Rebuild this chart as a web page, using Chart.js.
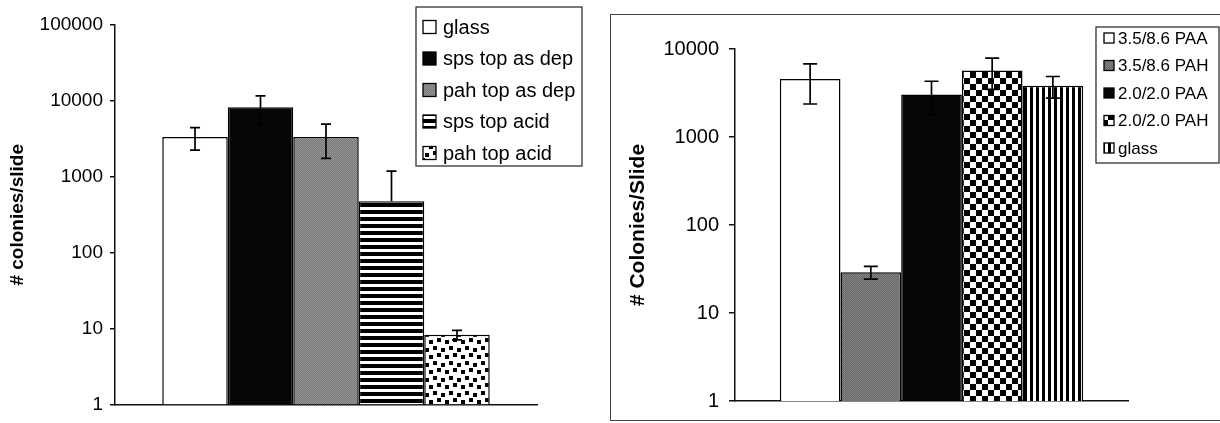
<!DOCTYPE html>
<html>
<head>
<meta charset="utf-8">
<script src="https://cdn.jsdelivr.net/npm/chart.js@4.4.0/dist/chart.umd.min.js"></script>
<style>
  body { margin: 0; background: #fff; width: 1220px; height: 423px; overflow: hidden; position: relative; }
  .panel { position: absolute; top: 0; width: 610px; height: 423px; }
  #frame { position: absolute; left: 610px; top: 14px; width: 620px; height: 407px; border: 1.5px solid #444; box-sizing: border-box; }
</style>
</head>
<body>
<div class="panel" style="left:0"><canvas id="chartLeft" width="610" height="423"></canvas></div>
<div id="frame"></div>
<div class="panel" style="left:610px"><canvas id="chartRight" width="610" height="423"></canvas></div>

<script>
// --- Data ---
const leftLabels = ['glass', 'sps top as dep', 'pah top as dep', 'sps top acid', 'pah top acid'];
const leftValues = [3350, 8270, 3350, 478, 8.3];
const leftErrors = [1100, 3400, 1600, 713, 1.2];
const leftTicks = [1, 10, 100, 1000, 10000, 100000];

const rightLabels = ['3.5/8.6 PAA', '3.5/8.6 PAH', '2.0/2.0 PAA', '2.0/2.0 PAH', 'glass'];
const rightValues = [4570, 29, 3050, 5680, 3820];
const rightErrors = [2200, 4.8, 1250, 2200, 1050];
const rightTicks = [1, 10, 100, 1000, 10000];

const FONT = '"Liberation Sans", Arial, Helvetica, sans-serif';

// --- Fill patterns ---
function makePattern(w, h, draw) {
    const c = document.createElement('canvas');
    c.width = w; c.height = h;
    const g = c.getContext('2d');
    g.fillStyle = '#fff';
    g.fillRect(0, 0, w, h);
    g.fillStyle = '#000';
    draw(g);
    return g.createPattern(c, 'repeat');
}

const fills = {
    white: '#ffffff',
    black: '#060606',
    gray: makePattern(2, 2, g => {
        g.fillStyle = '#787878'; g.fillRect(0, 0, 2, 2);
        g.fillStyle = '#959595'; g.fillRect(0, 0, 1, 1); g.fillRect(1, 1, 1, 1);
    }),
    darkGray: makePattern(2, 2, g => {
        g.fillStyle = '#666'; g.fillRect(0, 0, 2, 2);
        g.fillStyle = '#858585'; g.fillRect(0, 0, 1, 1); g.fillRect(1, 1, 1, 1);
    }),
    hStripes: makePattern(1, 7, g => g.fillRect(0, 0, 1, 4)),
    confetti: makePattern(16, 15, g => {
        g.fillRect(1, 1, 4, 4); g.fillRect(9, 3, 4, 4);
        g.fillRect(5, 8, 4, 4); g.fillRect(13, 10, 3, 4); g.fillRect(0, 10, 1, 4);
    }),
    checker: makePattern(12, 12, g => { g.fillRect(0, 0, 6, 6); g.fillRect(6, 6, 6, 6); }),
    vStripes: makePattern(6, 1, g => g.fillRect(0, 0, 3, 1))
};

const leftFills = [fills.white, fills.black, fills.gray, fills.hStripes, fills.confetti];
const rightFills = [fills.white, fills.darkGray, fills.black, fills.checker, fills.vStripes];

// --- Plugins ---
const errorBars = {
    id: 'errorBars',
    afterDatasetsDraw(chart, args, opts) {
        const ctx = chart.ctx;
        const y = chart.scales.y;
        ctx.save();
        ctx.strokeStyle = '#000';
        ctx.lineWidth = 1.7;
        chart.data.datasets.forEach((ds, i) => {
            const bar = chart.getDatasetMeta(i).data[0];
            const v = ds.data[0];
            const e = opts.errors[i];
            const top = y.getPixelForValue(v + e);
            const hasLow = v - e > 0;
            const bot = hasLow ? y.getPixelForValue(v - e) : bar.y;
            ctx.beginPath();
            ctx.moveTo(bar.x, top); ctx.lineTo(bar.x, bot);
            ctx.moveTo(bar.x - opts.cap, top); ctx.lineTo(bar.x + opts.cap, top);
            if (hasLow) { ctx.moveTo(bar.x - opts.cap, bot); ctx.lineTo(bar.x + opts.cap, bot); }
            ctx.stroke();
        });
        ctx.restore();
    }
};

const boxLegend = {
    id: 'boxLegend',
    afterDraw(chart, args, o) {
        const ctx = chart.ctx;
        ctx.save();
        ctx.fillStyle = '#fff';
        ctx.fillRect(o.x, o.y, o.w, o.h);
        ctx.strokeStyle = '#333';
        ctx.lineWidth = 1.3;
        ctx.strokeRect(o.x, o.y, o.w, o.h);
        ctx.font = o.size + 'px ' + FONT;
        ctx.textBaseline = 'middle';
        chart.data.datasets.forEach((ds, i) => {
            const cy = o.firstRow + i * o.rowGap;
            ctx.fillStyle = ds.backgroundColor;
            ctx.fillRect(o.swX, cy - o.sw / 2, o.sw, o.sw);
            ctx.lineWidth = 1.3;
            ctx.strokeStyle = '#000';
            ctx.strokeRect(o.swX, cy - o.sw / 2, o.sw, o.sw);
            ctx.fillStyle = '#000';
            ctx.fillText(ds.label, o.textX, cy + 1);
        });
        ctx.restore();
    }
};

// --- Chart builder ---
function makeChart(id, labels, values, errors, tickVals, fillList, cfg) {
    return new Chart(document.getElementById(id), {
        type: 'bar',
        data: {
            labels: [''],
            datasets: labels.map((l, i) => ({
                label: l,
                data: [values[i]],
                backgroundColor: fillList[i],
                borderColor: '#000',
                borderWidth: 1.5,
                categoryPercentage: cfg.catPct,
                barPercentage: 1
            }))
        },
        options: {
            responsive: false,
            animation: false,
            layout: { padding: cfg.padding },
            plugins: {
                legend: { display: false },
                tooltip: { enabled: false },
                errorBars: { errors: errors, cap: cfg.cap },
                boxLegend: cfg.legend
            },
            scales: {
                x: {
                    grid: { display: false, drawTicks: false },
                    border: { display: true, color: '#111', width: 1.5 },
                    ticks: { display: false }
                },
                y: {
                    type: 'logarithmic',
                    min: tickVals[0],
                    max: tickVals[tickVals.length - 1],
                    afterBuildTicks: s => { s.ticks = tickVals.map(v => ({ value: v })); },
                    afterFit: s => { s.width = cfg.axisX; },
                    grid: { drawOnChartArea: false, drawTicks: true, tickLength: cfg.tickLen, color: '#111', lineWidth: 1.5 },
                    border: { display: true, color: '#111', width: 1.5 },
                    ticks: {
                        padding: cfg.tickPad,
                        color: '#000',
                        font: { family: FONT, size: cfg.tickSize },
                        callback: v => String(v)
                    },
                    title: {
                        display: true,
                        text: cfg.title,
                        color: '#000',
                        font: { family: FONT, size: cfg.titleSize, weight: 'bold' },
                        padding: { top: cfg.titlePad, bottom: 0 }
                    }
                }
            }
        },
        plugins: [errorBars, boxLegend]
    });
}

makeChart('chartLeft', leftLabels, leftValues, leftErrors, leftTicks, leftFills, {
    catPct: 0.776, padding: { left: 0, top: 25, right: 73, bottom: 16 },
    axisX: 115, tickLen: 5, tickPad: 7, tickSize: 19,
    title: '# colonies/slide', titleSize: 19, titlePad: 6, cap: 5,
    legend: { x: 416, y: 7, w: 166, h: 159, firstRow: 27, rowGap: 31.5, swX: 423, sw: 13, textX: 443, size: 20 }
});

makeChart('chartRight', rightLabels, rightValues, rightErrors, rightTicks, rightFills, {
    catPct: 0.772, padding: { left: 0, top: 49, right: 92, bottom: 19 },
    axisX: 125, tickLen: 6, tickPad: 10, tickSize: 20,
    title: '# Colonies/Slide', titleSize: 21, titlePad: 16, cap: 7,
    legend: { x: 486, y: 27, w: 123, h: 136, firstRow: 38, rowGap: 27.5, swX: 494, sw: 10, textX: 508, size: 17 }
});
</script>
</body>
</html>
